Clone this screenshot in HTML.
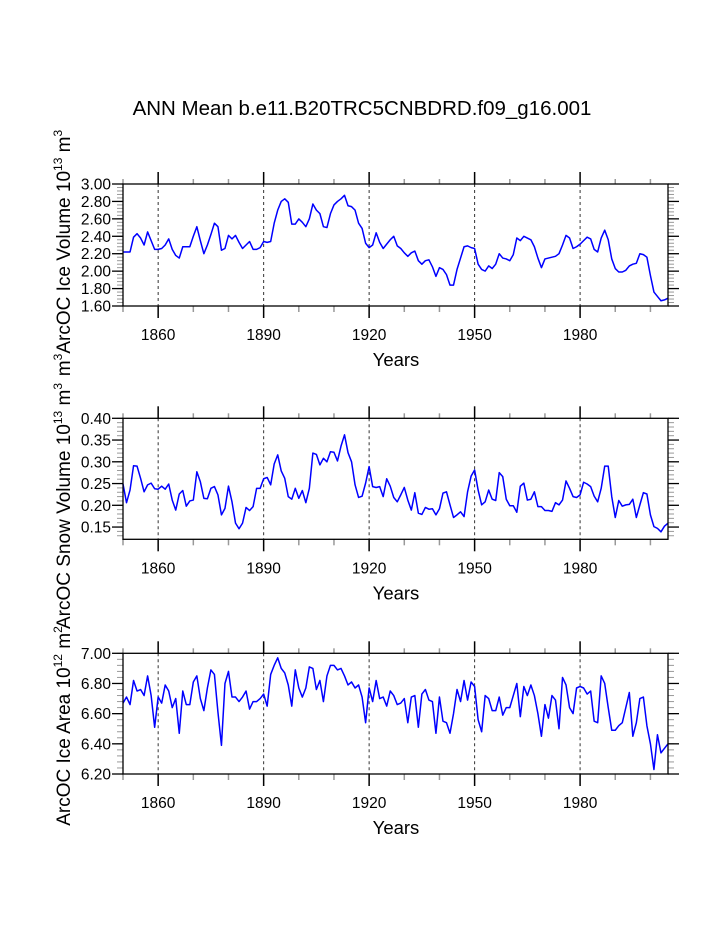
<!DOCTYPE html>
<html><head><meta charset="utf-8"><style>
html,body{margin:0;padding:0;background:#fff;}
svg{display:block;font-family:"Liberation Sans",Arial,sans-serif;}
</style></head><body>
<svg id="chart" width="723" height="935" viewBox="0 0 723 935" xmlns="http://www.w3.org/2000/svg">
<rect width="723" height="935" fill="#fff"/>
<text x="362" y="115" font-size="20.5" text-anchor="middle">ANN Mean b.e11.B20TRC5CNBDRD.f09_g16.001</text>
</svg>
<script>
const startYear = 1850;
const iceVolume = [2.22,2.22,2.22,2.39,2.43,2.38,2.30,2.45,2.35,2.25,2.25,2.26,2.30,2.37,2.25,2.18,2.15,2.28,2.28,2.28,2.40,2.51,2.35,2.20,2.30,2.42,2.55,2.51,2.24,2.26,2.41,2.37,2.41,2.33,2.26,2.30,2.34,2.25,2.25,2.27,2.34,2.33,2.34,2.55,2.70,2.80,2.83,2.79,2.54,2.54,2.60,2.56,2.51,2.60,2.77,2.70,2.66,2.51,2.50,2.66,2.76,2.80,2.83,2.87,2.75,2.74,2.70,2.55,2.49,2.32,2.27,2.30,2.44,2.33,2.26,2.31,2.36,2.40,2.29,2.26,2.21,2.17,2.21,2.23,2.12,2.08,2.12,2.13,2.05,1.94,2.04,2.02,1.96,1.84,1.84,2.02,2.15,2.28,2.29,2.27,2.26,2.08,2.02,2.00,2.06,2.03,2.08,2.20,2.15,2.14,2.12,2.19,2.38,2.35,2.40,2.38,2.36,2.28,2.15,2.04,2.14,2.15,2.16,2.17,2.20,2.30,2.41,2.38,2.26,2.28,2.31,2.35,2.39,2.37,2.25,2.22,2.38,2.47,2.36,2.14,2.03,1.99,1.99,2.01,2.06,2.08,2.09,2.20,2.19,2.16,1.95,1.76,1.71,1.66,1.67,1.69];
const snowVolume = [0.249,0.206,0.235,0.291,0.290,0.262,0.231,0.247,0.251,0.238,0.237,0.244,0.237,0.249,0.212,0.189,0.226,0.234,0.198,0.210,0.212,0.277,0.254,0.216,0.215,0.239,0.243,0.224,0.178,0.193,0.244,0.208,0.159,0.146,0.159,0.195,0.188,0.197,0.239,0.239,0.261,0.264,0.247,0.295,0.316,0.279,0.262,0.220,0.214,0.239,0.216,0.234,0.206,0.239,0.320,0.317,0.293,0.308,0.300,0.323,0.322,0.302,0.336,0.362,0.321,0.300,0.247,0.218,0.221,0.251,0.289,0.243,0.241,0.243,0.220,0.261,0.244,0.218,0.208,0.224,0.241,0.212,0.189,0.229,0.182,0.179,0.195,0.191,0.192,0.178,0.192,0.228,0.231,0.201,0.172,0.178,0.185,0.174,0.231,0.267,0.281,0.235,0.201,0.208,0.235,0.214,0.211,0.275,0.266,0.214,0.199,0.199,0.184,0.244,0.251,0.212,0.214,0.231,0.197,0.197,0.188,0.188,0.186,0.206,0.201,0.212,0.256,0.239,0.220,0.218,0.224,0.253,0.249,0.243,0.221,0.208,0.239,0.290,0.290,0.220,0.172,0.211,0.198,0.201,0.202,0.214,0.172,0.201,0.229,0.226,0.178,0.151,0.147,0.139,0.152,0.159];
const iceArea = [6.67,6.71,6.66,6.82,6.75,6.76,6.72,6.85,6.72,6.51,6.71,6.67,6.79,6.75,6.64,6.70,6.47,6.75,6.66,6.66,6.81,6.85,6.70,6.62,6.77,6.89,6.86,6.61,6.39,6.80,6.88,6.71,6.71,6.68,6.71,6.75,6.63,6.68,6.68,6.70,6.73,6.65,6.86,6.92,6.97,6.90,6.87,6.79,6.65,6.89,6.77,6.71,6.77,6.91,6.90,6.76,6.82,6.68,6.85,6.92,6.92,6.89,6.90,6.85,6.79,6.81,6.77,6.79,6.71,6.54,6.77,6.68,6.82,6.70,6.71,6.65,6.75,6.72,6.66,6.67,6.70,6.54,6.71,6.72,6.51,6.73,6.76,6.69,6.68,6.47,6.71,6.55,6.54,6.47,6.60,6.76,6.68,6.82,6.69,6.81,6.78,6.56,6.48,6.72,6.70,6.62,6.62,6.71,6.59,6.64,6.64,6.72,6.80,6.58,6.78,6.72,6.79,6.72,6.60,6.45,6.66,6.57,6.72,6.69,6.50,6.84,6.79,6.64,6.60,6.77,6.78,6.77,6.73,6.75,6.55,6.54,6.85,6.80,6.64,6.49,6.49,6.52,6.54,6.64,6.74,6.45,6.54,6.70,6.71,6.52,6.40,6.23,6.46,6.34,6.37,6.40];
const xMajorTicks = [1860,1890,1920,1950,1980];
const xMinorTicks = [1850,1870,1880,1900,1910,1930,1940,1960,1970,1990,2000];
const p1Ticks = [1.60,1.80,2.00,2.20,2.40,2.60,2.80,3.00];
const p2Ticks = [0.15,0.20,0.25,0.30,0.35,0.40];
const p3Ticks = [6.20,6.40,6.60,6.80,7.00];

const NS = "http://www.w3.org/2000/svg";
const svg = document.getElementById('chart');
const X0 = 123, X1 = 668, Y0 = 1850, Y1 = 2005;
function xs(yr){ return X0 + (yr - Y0) * (X1 - X0) / (Y1 - Y0); }
function mk(tag, attrs, parent){ const e = document.createElementNS(NS, tag); for (const k in attrs) e.setAttribute(k, attrs[k]); (parent||svg).appendChild(e); return e; }

const panels = [
 {name:'ice-volume', data:iceVolume, ticks:p1Ticks, top:184, bot:306, vmin:1.60, vmax:3.00, minor:0.04, label:[['m',0],['3',1],['ArcOC Ice Volume 10',0],['13',1],[' m',0],['3',1]], lblY:253},
 {name:'snow-volume', data:snowVolume, ticks:p2Ticks, top:418.3, bot:539.3, vmin:0.40-121/21.75*0.05, vmax:0.40, minor:0.01, label:[['ArcOC Snow Volume 10',0],['13',1],[' m',0],['3',1]], lblY:506},
 {name:'ice-area', data:iceArea, ticks:p3Ticks, top:653.3, bot:774, vmin:6.20, vmax:7.00, minor:0.04, label:[['ArcOC Ice Area 10',0],['12',1],[' m',0],['2',1]], lblY:726}
];

panels.forEach(p => {
  const g = mk('g', {});
  
  
  const ys = v => p.bot - (v - p.vmin) / (p.vmax - p.vmin) * (p.bot - p.top);
  xMajorTicks.forEach(t => {
    const l = mk('line', {x1:xs(t), x2:xs(t), y1:p.top, y2:p.bot, stroke:'#333', 'stroke-width':1, 'stroke-dasharray':'3,3'}, g);
    
    
  });
  xMajorTicks.forEach(t => {
    const x = xs(t);
    mk('line', {x1:x, x2:x, y1:p.top-12, y2:p.top, stroke:'#000', 'stroke-width':1.5}, g);
    mk('line', {x1:x, x2:x, y1:p.bot, y2:p.bot+12, stroke:'#000', 'stroke-width':1.5}, g);
    const tx = mk('text', {x:x, y:p.bot+34, 'font-size':15.5, 'text-anchor':'middle'}, g);
    tx.textContent = t;
    
    
  });
  xMinorTicks.forEach(t => {
    const x = xs(t);
    mk('line', {x1:x, x2:x, y1:p.top-5, y2:p.top, stroke:'#999', 'stroke-width':1.5}, g);
    mk('line', {x1:x, x2:x, y1:p.bot, y2:p.bot+6, stroke:'#999', 'stroke-width':1.5}, g);
  });
  for (let v = p.vmax; v >= p.vmin - 1e-9; v -= p.minor) {
    const y = ys(v);
    mk('line', {x1:X0-6, x2:X0, y1:y, y2:y, stroke:'#999', 'stroke-width':1}, g);
    mk('line', {x1:X1, x2:X1+6, y1:y, y2:y, stroke:'#999', 'stroke-width':1}, g);
  }
  p.ticks.forEach(v => {
    const y = ys(v);
    mk('line', {x1:X0-11, x2:X0, y1:y, y2:y, stroke:'#000', 'stroke-width':1.3}, g);
    mk('line', {x1:X1, x2:X1+11, y1:y, y2:y, stroke:'#000', 'stroke-width':1.3}, g);
    const tx = mk('text', {x:X0-12, y:y+5.5, 'font-size':15.5, 'text-anchor':'end'}, g);
    tx.textContent = v.toFixed(2);
    
    
  });
  const pts = p.data.map((v, i) => xs(startYear + i).toFixed(2) + ',' + ys(v).toFixed(2)).join(' ');
  const line = mk('polyline', {points:pts, fill:'none', stroke:'#0000ff', 'stroke-width':1.5, 'stroke-linejoin':'round'}, g);
  
  
  const fr = mk('rect', {x:X0, y:p.top, width:X1-X0, height:p.bot-p.top, fill:'none', stroke:'#000', 'stroke-width':1.3}, g);
  
  
  const xt = mk('text', {x:396, y:p.bot+60, 'font-size':18.5, 'text-anchor':'middle'}, g);
  xt.textContent = 'Years';
  
  
  const yt = mk('text', {x:0, y:0, 'font-size':19, 'text-anchor':'middle', transform:'translate(70,' + p.lblY + ') rotate(-90)'}, g);
  
  
  p.label.forEach(([s, sup]) => {
    const ts = mk('tspan', sup ? {'font-size':12, dy:-8} : {dy: 0}, yt);
    ts.textContent = s;
    if (sup) { const r = mk('tspan', {'font-size':1, dy:8}, yt); r.textContent = '\u200b'; }
  });
});
</script>
</body></html>
